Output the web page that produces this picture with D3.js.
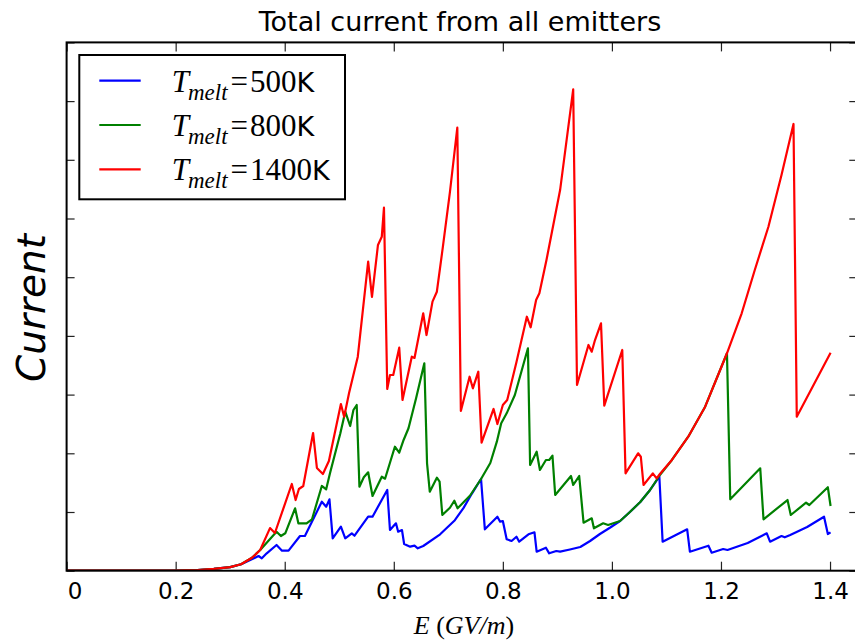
<!DOCTYPE html>
<html>
<head>
<meta charset="utf-8">
<script src="https://cdn.jsdelivr.net/npm/d3@7/dist/d3.min.js"></script>
<style>
	body { margin: 0; background: #fff; }
	svg { display: block; }
</style>
</head>
<body>
<svg id="current-svg" width="855" height="640"></svg>
<script>
// E in GV/m, current in arbitrary units (y axis has no labels)
const onset = [
	[0.00, 0.00], [0.20, 0.00], [0.24, 0.01], [0.27, 0.03], [0.30, 0.06], [0.32, 0.11]
];

const melt500 = [
	[0.324, 0.126], [0.352, 0.250], [0.358, 0.211], [0.367, 0.296], [0.385, 0.438],
	[0.395, 0.341], [0.407, 0.341], [0.428, 0.591], [0.437, 0.591], [0.468, 1.175],
	[0.476, 1.090], [0.482, 1.216], [0.488, 0.552], [0.503, 0.750], [0.511, 0.552],
	[0.523, 0.637], [0.528, 0.596], [0.553, 0.920], [0.561, 0.920], [0.588, 1.375],
	[0.593, 0.693], [0.604, 0.807], [0.608, 0.664], [0.615, 0.693], [0.619, 0.455],
	[0.630, 0.409], [0.638, 0.426], [0.644, 0.382], [0.654, 0.421], [0.685, 0.620],
	[0.712, 0.860], [0.728, 1.070], [0.743, 1.310], [0.760, 1.562], [0.767, 0.705],
	[0.790, 0.920], [0.795, 0.835], [0.800, 0.846], [0.807, 0.535], [0.816, 0.506],
	[0.825, 0.579], [0.830, 0.494], [0.847, 0.620], [0.858, 0.654], [0.862, 0.324],
	[0.879, 0.392], [0.885, 0.296], [0.898, 0.336], [0.905, 0.324], [0.923, 0.361],
	[0.942, 0.404], [0.960, 0.506], [0.978, 0.625], [0.997, 0.736], [1.015, 0.847],
	[1.033, 1.000], [1.052, 1.170], [1.070, 1.375], [1.087, 1.601], [1.093, 0.494],
	[1.138, 0.705], [1.143, 0.324], [1.177, 0.426], [1.183, 0.307], [1.204, 0.370],
	[1.212, 0.353], [1.249, 0.472], [1.284, 0.637], [1.290, 0.494], [1.311, 0.591],
	[1.317, 0.569], [1.327, 0.608], [1.358, 0.744], [1.389, 0.920], [1.396, 0.625],
	[1.401, 0.654]
];

const melt800 = [
	[0.340, 0.220], [0.355, 0.353], [0.385, 0.664], [0.393, 0.591], [0.401, 0.637],
	[0.419, 1.063], [0.425, 0.807], [0.440, 0.807], [0.450, 0.876], [0.468, 1.443],
	[0.476, 1.387], [0.483, 1.659], [0.502, 2.341], [0.511, 2.709], [0.520, 2.465],
	[0.526, 2.738], [0.532, 2.823], [0.537, 1.431], [0.545, 1.591], [0.553, 1.676],
	[0.561, 1.273], [0.578, 1.601], [0.584, 1.567], [0.602, 2.112], [0.610, 2.010],
	[0.618, 2.227], [0.627, 2.426], [0.641, 2.942], [0.656, 3.532], [0.661, 1.830],
	[0.666, 1.346], [0.679, 1.584], [0.684, 1.516], [0.689, 0.949], [0.703, 1.073],
	[0.711, 1.192], [0.717, 1.063], [0.723, 1.119], [0.740, 1.281], [0.760, 1.562],
	[0.777, 1.835], [0.789, 2.198], [0.797, 2.511], [0.807, 2.681], [0.822, 2.993],
	[0.846, 3.789], [0.850, 1.801], [0.862, 2.027], [0.868, 1.716], [0.879, 1.886],
	[0.885, 1.886], [0.891, 1.959], [0.896, 1.290], [0.925, 1.613], [0.929, 1.460],
	[0.940, 1.613], [0.948, 0.818], [0.963, 0.893], [0.967, 0.722], [0.984, 0.807],
	[0.993, 0.779], [1.015, 0.847], [1.033, 1.000], [1.052, 1.170], [1.070, 1.375],
	[1.088, 1.630], [1.110, 1.886], [1.140, 2.283], [1.171, 2.794], [1.211, 3.704],
	[1.217, 1.216], [1.272, 1.744], [1.278, 0.876], [1.322, 1.204], [1.328, 0.949],
	[1.356, 1.158], [1.362, 1.119], [1.396, 1.421], [1.401, 1.102]
];

const melt1400 = [
	[0.340, 0.220], [0.355, 0.353], [0.373, 0.726], [0.382, 0.642], [0.413, 1.477],
	[0.420, 1.204], [0.426, 1.392], [0.434, 1.443], [0.452, 2.346], [0.459, 1.750],
	[0.470, 1.647], [0.481, 1.869], [0.503, 2.840], [0.509, 2.624], [0.518, 3.027],
	[0.534, 3.646], [0.553, 5.264], [0.560, 4.663], [0.571, 5.549], [0.578, 5.690],
	[0.582, 6.184], [0.588, 3.095], [0.593, 3.334], [0.599, 3.334], [0.610, 3.799],
	[0.616, 2.908], [0.633, 3.646], [0.638, 3.624], [0.654, 4.385], [0.660, 4.015],
	[0.671, 4.583], [0.679, 4.753], [0.690, 5.515], [0.703, 6.452], [0.7165, 7.547],
	[0.723, 2.721], [0.739, 3.305], [0.745, 3.107], [0.755, 3.390], [0.761, 2.181],
	[0.783, 2.755], [0.790, 2.499], [0.800, 2.823], [0.808, 2.908], [0.825, 3.555],
	[0.844, 4.327], [0.851, 4.147], [0.861, 4.612], [0.867, 4.726], [0.880, 5.293],
	[0.905, 6.485], [0.929, 8.201], [0.936, 3.164], [0.957, 3.845], [0.963, 3.731],
	[0.969, 3.930], [0.980, 4.215], [0.986, 2.811], [1.019, 3.760], [1.025, 1.659],
	[1.048, 2.000], [1.053, 1.942], [1.058, 1.460], [1.075, 1.659], [1.082, 1.574],
	[1.088, 1.647], [1.110, 1.886], [1.140, 2.283], [1.171, 2.794], [1.211, 3.704],
	[1.238, 4.385], [1.262, 5.123], [1.287, 5.860], [1.311, 6.741], [1.333, 7.610],
	[1.339, 2.624], [1.401, 3.714]
];

const seriesNames = ['500', '800', '1400'];
const xTicks = [0, 0.2, 0.4, 0.6, 0.8, 1.0, 1.2, 1.4];
const xTickLabels = ['0', '0.2', '0.4', '0.6', '0.8', '1.0', '1.2', '1.4'];
const yTicks = [0, 1, 2, 3, 4, 5, 6, 7, 8, 9];

const colors = ['#0000ff', '#008000', '#ff0000'];

const margin = {left: 66.6, top: 42.4};
const w = 790.7;
const h = 528.3;

const svg = d3.select('#current-svg');

const x = d3.scaleLinear().domain([0, 1.45]).range([0, w]);
const y = d3.scaleLinear().domain([0, 9]).range([h, 0]);

const g = svg.append('g')
	.attr('transform', 'translate(' + margin.left + ', ' + margin.top + ')');

g.append('clipPath')
	.attr('id', 'plot-clip')
	.append('rect')
	.attr('width', w)
	.attr('height', h);

// ticks on all four sides, pointing inward
const bottomAxis = d3.axisBottom(x)
	.tickValues(xTicks)
	.tickFormat((d, i) => xTickLabels[i])
	.tickSize(-9)
	.tickPadding(12);

const topAxis = d3.axisTop(x).tickValues(xTicks).tickFormat('').tickSize(-9);
const leftAxis = d3.axisLeft(y).tickValues(yTicks).tickFormat('').tickSize(-8);
const rightAxis = d3.axisRight(y).tickValues(yTicks).tickFormat('').tickSize(-8);

g.append('g').attr('class', 'axis x-bottom').attr('transform', 'translate(0,' + h + ')').call(bottomAxis);
g.append('g').attr('class', 'axis x-top').call(topAxis);
g.append('g').attr('class', 'axis y-left').call(leftAxis);
g.append('g').attr('class', 'axis y-right').attr('transform', 'translate(' + w + ',0)').call(rightAxis);

g.selectAll('.axis .domain').remove();
g.selectAll('.axis line')
	.attr('stroke', '#222')
	.attr('stroke-width', 1.2);
g.selectAll('.x-bottom text')
	.attr('font-family', 'DejaVu Sans, sans-serif')
	.attr('font-size', 23)
	.attr('fill', '#000')
	.attr('dx', (d) => d === 0 ? 8 : 0);

const line = d3.line()
	.x((d) => x(d[0]))
	.y((d) => y(d[1]));

const allSeries = [melt500, melt800, melt1400].map((pts) => onset.concat(pts));

g.append('g')
	.attr('clip-path', 'url(#plot-clip)')
	.selectAll('path')
	.data(allSeries)
	.enter().append('path')
	.attr('d', line)
	.attr('fill', 'none')
	.attr('stroke', (d, i) => colors[i])
	.attr('stroke-width', 2.2)
	.attr('stroke-linejoin', 'round');

g.append('rect')
	.attr('width', w)
	.attr('height', h)
	.attr('fill', 'none')
	.attr('stroke', '#000')
	.attr('stroke-width', 2);

// legend
const legend = g.append('g')
	.attr('transform', 'translate(' + (79.3 - margin.left) + ', ' + (55 - margin.top) + ')');

legend.append('rect')
	.attr('width', 265.7)
	.attr('height', 144.3)
	.attr('fill', '#fff')
	.attr('stroke', '#000')
	.attr('stroke-width', 2);

const entries = legend.selectAll('.legend-entry')
	.data(seriesNames)
	.enter().append('g')
	.attr('class', 'legend-entry')
	.attr('transform', (d, i) => 'translate(0, ' + (25.7 + i * 44.3) + ')');

entries.append('line')
	.attr('x1', 20)
	.attr('x2', 61.4)
	.attr('stroke', (d, i) => colors[i])
	.attr('stroke-width', 2.2);

const label = entries.append('text')
	.attr('x', 92.4)
	.attr('y', 11)
	.attr('font-family', 'Liberation Serif, serif')
	.attr('font-size', 31)
	.attr('fill', '#000');

label.append('tspan').attr('font-style', 'italic').text('T');
label.append('tspan')
	.attr('font-style', 'italic')
	.attr('font-size', 23)
	.attr('dy', 8)
	.attr('dx', -1)
	.text('melt');
label.append('tspan')
	.attr('dy', -8)
	.attr('dx', 3)
	.text('=');
label.append('tspan')
	.attr('dx', 2)
	.text((d) => d);
label.append('tspan')
	.attr('font-family', 'DejaVu Sans, sans-serif')
	.attr('font-size', 27)
	.text('K');

// titles
svg.append('text')
	.attr('x', margin.left + w / 2 - 2)
	.attr('y', 31)
	.attr('text-anchor', 'middle')
	.attr('font-family', 'DejaVu Sans, sans-serif')
	.attr('font-size', 27)
	.attr('fill', '#000')
	.text('Total current from all emitters');

const xlabel = svg.append('text')
	.attr('x', margin.left + w / 2 + 2)
	.attr('y', 634)
	.attr('text-anchor', 'middle')
	.attr('font-family', 'Liberation Serif, serif')
	.attr('font-size', 26)
	.attr('fill', '#000');
xlabel.append('tspan').attr('font-style', 'italic').text('E');
xlabel.append('tspan').text(' (');
xlabel.append('tspan').attr('font-style', 'italic').text('GV/m');
xlabel.append('tspan').text(')');

svg.append('text')
	.attr('transform', 'translate(45, 308) rotate(-90)')
	.attr('text-anchor', 'middle')
	.attr('font-family', 'DejaVu Sans, sans-serif')
	.attr('font-style', 'oblique')
	.attr('font-size', 39)
	.attr('fill', '#000')
	.text('Current');
</script>
</body>
</html>
